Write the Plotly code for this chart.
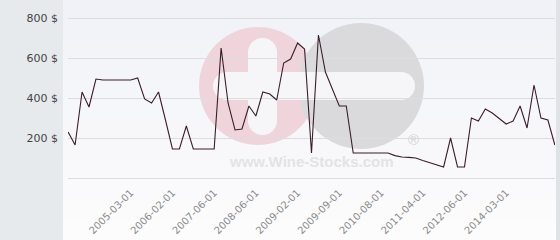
import plotly.graph_objects as go

dates = [
    "2002-06-01", "2002-11-01", "2003-02-01", "2003-06-01", "2003-10-01",
    "2004-01-01", "2004-04-01", "2004-07-01", "2004-11-01", "2005-03-01",
    "2005-05-01", "2005-07-01", "2005-09-01", "2005-10-01", "2005-12-01",
    "2006-02-01", "2006-05-01", "2006-08-01", "2006-11-01", "2007-01-01",
    "2007-04-01", "2007-06-01", "2007-08-01", "2007-10-01", "2007-12-01",
    "2008-02-01", "2008-04-01", "2008-06-01", "2008-07-01", "2008-09-01",
    "2008-10-01", "2008-11-01", "2008-12-01", "2009-02-01", "2009-03-01",
    "2009-04-01", "2009-05-01", "2009-06-01", "2009-07-01", "2009-09-01",
    "2009-11-01", "2010-01-01", "2010-03-01", "2010-05-01", "2010-06-01",
    "2010-08-01", "2010-09-01", "2010-11-01", "2010-12-01", "2011-01-01",
    "2011-03-01", "2011-04-01", "2011-06-01", "2011-09-01", "2011-11-01",
    "2012-02-01", "2012-04-01", "2012-06-01", "2012-10-01", "2013-01-01",
    "2013-05-01", "2013-08-01", "2013-11-01", "2014-03-01", "2014-06-01",
    "2014-09-01", "2014-12-01", "2015-03-01", "2015-06-01", "2015-09-01",
    "2015-12-01",
]

prices = [
    230, 165, 430, 355, 495, 490, 490, 490, 490, 490,
    500, 395, 375, 430, 290, 145, 145, 260, 145, 145,
    145, 145, 650, 375, 240, 245, 360, 310, 430, 420,
    390, 575, 595, 675, 645, 125, 715, 530, 445, 360,
    360, 125, 125, 125, 125, 125, 125, 112, 105, 103,
    100, 88, 78, 68, 55, 200, 55, 55, 300, 285,
    345, 325, 298, 270, 285, 360, 250, 465, 300, 290,
    165,
]

x_tick_labels = [
    "2005-03-01", "2006-02-01", "2007-06-01", "2008-06-01", "2009-02-01",
    "2009-09-01", "2010-08-01", "2011-04-01", "2012-06-01", "2014-03-01",
]

y_tick_values = [0, 200, 400, 600, 800]
y_tick_text = ["", "200 $", "400 $", "600 $", "800 $"]

# ---- layout geometry (pixels) ----
W, H = 560, 240
L, R, T, B = 68, 5, 10, 60
PW, PH = W - L - R, H - T - B
Y_MIN = -10  # 2 px below zero so the zero gridline is drawn
Y_MAX = Y_MIN + PH * 5


def fx(px):
    return (px - L) / PW


def fy(py):
    return (H - B - py) / PH


shapes = []


def rect(x0, y0, x1, y1, color):
    shapes.append(dict(type="rect", xref="paper", yref="paper",
                       x0=fx(x0), x1=fx(x1), y0=fy(y1), y1=fy(y0),
                       fillcolor=color, line=dict(width=0), layer="below"))


def circle(cx, cy, r, color):
    shapes.append(dict(type="circle", xref="paper", yref="paper",
                       x0=fx(cx - r), x1=fx(cx + r), y0=fy(cy + r), y1=fy(cy - r),
                       fillcolor=color, line=dict(width=0), layer="below"))


# background vertical gradient bands
top_c = (241, 242, 247)
bot_c = (252, 252, 253)
nb = 12
for i in range(nb):
    t = i / (nb - 1)
    c = tuple(round(top_c[k] + (bot_c[k] - top_c[k]) * t) for k in range(3))
    y0 = i * H / nb
    y1 = (i + 1) * H / nb + 1
    rect(63, y0, 556, y1, "rgb(%d,%d,%d)" % c)

# left panel and right strip
rect(-10, -10, 63, H + 10, "#e7eaed")
rect(556, -10, W + 10, H + 10, "#dfe3e6")

# watermark logo
circle(258, 86, 59, "#efd5db")
circle(361, 86, 63, "#dadadc")
bar_c = "#f6f6f8"
# vertical bar
rect(248, 52, 277, 121, bar_c)
circle(262.5, 52.5, 14.5, bar_c)
circle(262.5, 120.5, 14.5, bar_c)
# horizontal bar
rect(227, 72, 401, 100, bar_c)
circle(227, 86, 14, bar_c)
circle(401, 86, 14, bar_c)

annotations = [
    dict(text="<b>www.Wine-Stocks.com</b>", xref="paper", yref="paper",
         x=fx(311), y=fy(161), showarrow=False,
         font=dict(family="Liberation Sans, Arial", size=15, color="#e3e3e5"),
         xanchor="center", yanchor="middle"),
    dict(text="®", xref="paper", yref="paper",
         x=fx(413), y=fy(139), showarrow=False,
         font=dict(family="Liberation Sans, Arial", size=15, color="#d3d3d5"),
         xanchor="center", yanchor="middle"),
]

fig = go.Figure()
fig.add_trace(go.Scatter(
    x=dates, y=prices, mode="lines",
    line=dict(color="#3a1d29", width=1.1),
    hoverinfo="x+y",
))

fig.update_layout(
    width=W, height=H,
    margin=dict(l=L, r=R, t=T, b=B),
    paper_bgcolor="#f4f5f9",
    plot_bgcolor="rgba(0,0,0,0)",
    showlegend=False,
    shapes=shapes,
    annotations=annotations,
    xaxis=dict(
        type="category",
        range=[-0.02, len(dates) - 1 + 0.02],
        tickmode="array",
        tickvals=x_tick_labels,
        ticktext=x_tick_labels,
        tickangle=-45,
        showgrid=False,
        zeroline=False,
        showline=False,
        ticks="",
        ticklabelstandoff=4,
        tickfont=dict(family="DejaVu Sans", size=10, color="#8a8a8a"),
        fixedrange=True,
    ),
    yaxis=dict(
        range=[Y_MIN, Y_MAX],
        tickmode="array",
        tickvals=y_tick_values,
        ticktext=y_tick_text,
        showgrid=True,
        gridcolor="#dddde0",
        gridwidth=1,
        zeroline=False,
        showline=False,
        ticks="",
        ticklabelstandoff=9,
        tickfont=dict(family="DejaVu Sans", size=11, color="#444444"),
        fixedrange=True,
    ),
)

fig.write_html("out.html")
